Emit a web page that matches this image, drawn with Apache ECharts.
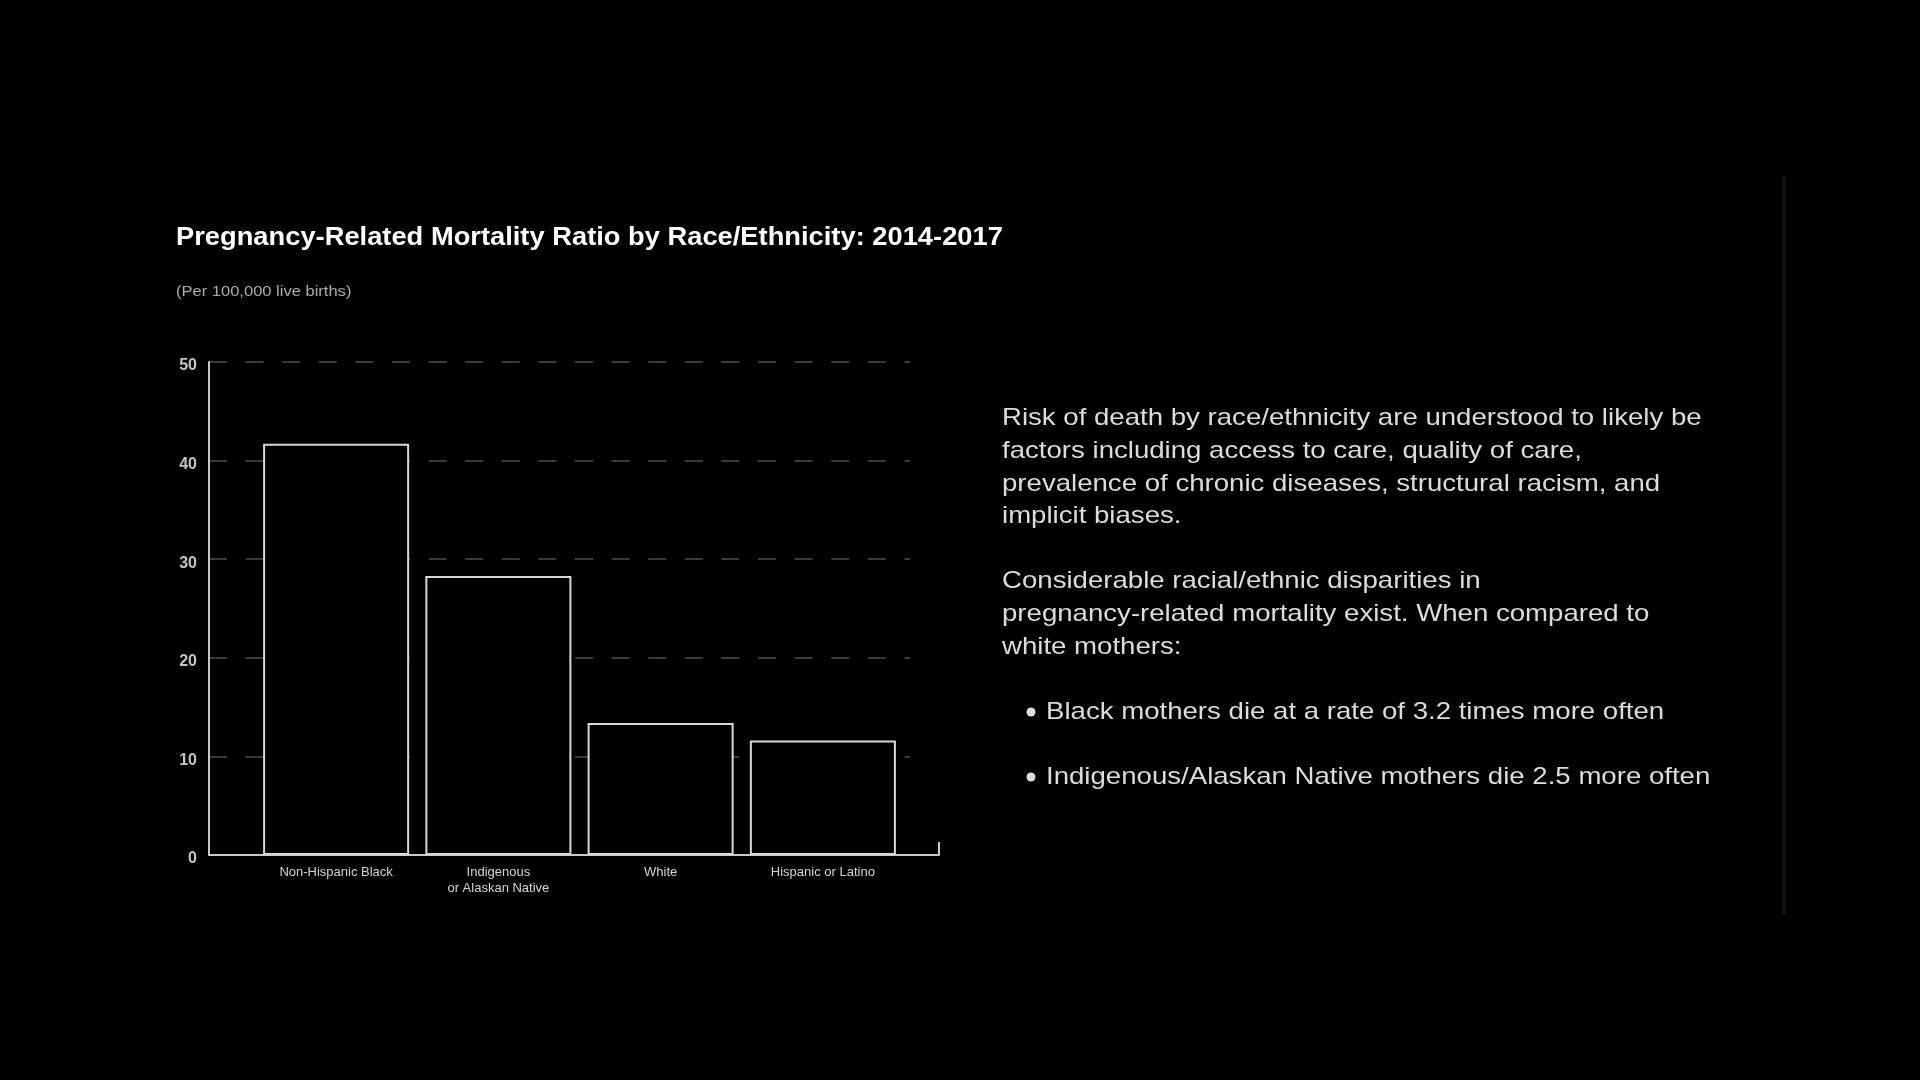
<!DOCTYPE html>
<html>
<head>
<meta charset="utf-8">
<script src="https://cdn.jsdelivr.net/npm/echarts@6/dist/echarts.min.js"></script>
<style>
html,body{margin:0;padding:0;background:#000;}
#chart{width:1920px;height:1080px;}
</style>
</head>
<body>
<div id="chart"></div>
<script>
const titleText = 'Pregnancy-Related Mortality Ratio by Race/Ethnicity: 2014-2017';
const subtitleText = '(Per 100,000 live births)';
const categories = ['Non-Hispanic Black', 'Indigenous\nor Alaskan Native', 'White', 'Hispanic or Latino'];
const ratioValues = [41.7, 28.3, 13.4, 11.6];
const yTicks = [0, 10, 20, 30, 40, 50];
const paragraph1 = [
  'Risk of death by race/ethnicity are understood to likely be',
  'factors including access to care, quality of care,',
  'prevalence of chronic diseases, structural racism, and',
  'implicit biases.'
];
const paragraph2 = [
  'Considerable racial/ethnic disparities in',
  'pregnancy-related mortality exist. When compared to',
  'white mothers:'
];
const bullets = [
  'Black mothers die at a rate of 3.2 times more often',
  'Indigenous/Alaskan Native mothers die 2.5 more often'
];

const FONT = "'Liberation Sans', Arial, Helvetica, sans-serif";
const chart = echarts.init(document.getElementById('chart'));

const TOP = 362, BOTTOM = 225;
const yMin = yTicks[0], yMax = yTicks[yTicks.length - 1], yStep = yTicks[1] - yTicks[0];

const textColor = '#dcdcdc';
const SX = 1.15;
function txt(x, y, t, font, fill, sx) {
  return {type: 'text', x: x, y: y, scaleX: sx, silent: true,
    style: {text: t, fill: fill, font: font, align: 'left', verticalAlign: 'middle'}};
}
const els = [];
els.push(txt(176, 238, titleText, 'bold 26px ' + FONT, '#ffffff', 1.05));
els.push(txt(176, 292, subtitleText, '14px ' + FONT, '#aaaaaa', 1.18));
const LH = 32.7;
paragraph1.forEach((t, i) => els.push(txt(1002, 418.5 + i * LH, t, '24px ' + FONT, textColor, SX)));
paragraph2.forEach((t, i) => els.push(txt(1002, 581.5 + i * LH, t, '24px ' + FONT, textColor, SX)));
const bulletY = [712, 777];
bullets.forEach((t, i) => {
  els.push({type: 'circle', silent: true, shape: {cx: 1031, cy: bulletY[i], r: 4.5}, style: {fill: textColor}});
  els.push(txt(1046, bulletY[i], t, '24px ' + FONT, textColor, SX));
});
els.push({type: 'line', silent: true, shape: {x1: 1784, y1: 176, x2: 1784, y2: 915},
  style: {stroke: '#141414', lineWidth: 3}});

chart.setOption({
  backgroundColor: '#000',
  animation: false,
  graphic: els,
  grid: [
    {left: 209, width: 701, top: TOP, bottom: BOTTOM},   // y axis + gridlines
    {left: 209, width: 730, top: TOP, bottom: BOTTOM},   // x axis line
    {left: 255, width: 649, top: TOP, bottom: BOTTOM}    // bars
  ],
  xAxis: [
    {gridIndex: 0, type: 'value', min: 0, max: 1, show: false},
    {gridIndex: 1, type: 'value', min: 0, max: 1, interval: 1,
     axisLine: {show: true, lineStyle: {color: '#c8c8c8', width: 2}},
     axisTick: {show: true, inside: true, length: 13, lineStyle: {color: '#c8c8c8', width: 2}},
     axisLabel: {show: false}, splitLine: {show: false}},
    {gridIndex: 2, type: 'category', data: categories,
     axisLine: {show: false}, axisTick: {show: false},
     axisLabel: {color: '#d4d4d4', fontSize: 13, fontFamily: FONT, margin: 9, lineHeight: 16}}
  ],
  yAxis: [
    {gridIndex: 0, type: 'value', min: yMin, max: yMax, interval: yStep,
     axisLine: {show: true, lineStyle: {color: '#c8c8c8', width: 2}},
     axisTick: {show: false},
     axisLabel: {color: '#c4c4c4', fontSize: 16, fontWeight: 'bold', fontFamily: FONT, margin: 12,
                 verticalAlign: 'top', lineHeight: 8},
     splitLine: {show: true, lineStyle: {color: '#3a3a3a', width: 2, type: [18, 18.6]}}},
    {gridIndex: 1, type: 'value', min: yMin, max: yMax, show: false},
    {gridIndex: 2, type: 'value', min: yMin, max: yMax, show: false}
  ],
  series: [{
    type: 'bar',
    xAxisIndex: 2, yAxisIndex: 2,
    data: ratioValues,
    barCategoryGap: '10%',
    z: 5,
    itemStyle: {color: '#000', borderColor: '#d8d8d8', borderWidth: 2}
  }]
});
</script>
</body>
</html>
